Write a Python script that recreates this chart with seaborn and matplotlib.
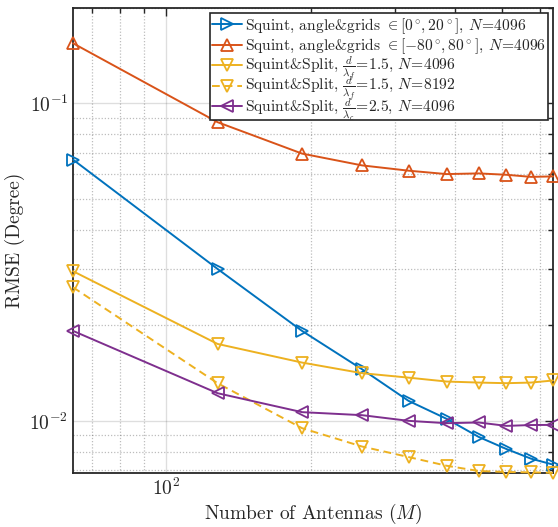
import types
import numpy as np
import pandas as pd
import matplotlib
matplotlib.use("Agg")
import matplotlib.pyplot as plt
import matplotlib.ticker as mticker
from matplotlib.transforms import Bbox
import seaborn as sns

antennas = [64, 128, 192, 256, 320, 384, 448, 512, 576, 640]
squint_0_20 = [0.0665, 0.0301, 0.0192, 0.01454, 0.01156, 0.01015, 0.0089, 0.00815, 0.0076, 0.00728]
squint_80_80 = [0.1547, 0.0873, 0.0695, 0.0638, 0.0614, 0.0599, 0.0602, 0.0596, 0.0587, 0.0589]
split_15_4096 = [0.0296, 0.01747, 0.01526, 0.01413, 0.01368, 0.0133, 0.0132, 0.01314, 0.0132, 0.0134]
split_15_8192 = [0.02633, 0.01314, 0.00948, 0.0083, 0.00769, 0.00722, 0.00695, 0.0069, 0.00688, 0.00686]
split_25_4096 = [0.0192, 0.01222, 0.01065, 0.01042, 0.0100, 0.00983, 0.00988, 0.00964, 0.0097, 0.00971]

labels = [
    r"Squint, angle&grids $\in[0^\circ\!,20^\circ]$, $N\!=\!4096$",
    r"Squint, angle&grids $\in[-80^\circ\!,80^\circ]$, $N\!=\!4096$",
    r"Squint&Split, $\frac{d}{\lambda_f}\!=\!1.5$, $N\!=\!4096$",
    r"Squint&Split, $\frac{d}{\lambda_f}\!=\!1.5$, $N\!=\!8192$",
    r"Squint&Split, $\frac{d}{\lambda_c}\!=\!2.5$, $N\!=\!4096$",
]

sns.set_theme(style="white")
plt.rcParams["font.family"] = ["cmr10", "DejaVu Serif"]
plt.rcParams["mathtext.fontset"] = "cm"
plt.rcParams["axes.unicode_minus"] = False
plt.rcParams["axes.formatter.use_mathtext"] = True

fig = plt.figure(figsize=(5.58, 5.27), dpi=100)
ax = fig.add_axes([0.131, 0.1025, 0.86, 0.8825])

series = [squint_0_20, squint_80_80, split_15_4096, split_15_8192, split_25_4096]
colors = ["#0072BD", "#D95319", "#EDB120", "#EDB120", "#7E2F8E"]
markers = [">", "^", "v", "v", "<"]
styles = ["-", "-", "-", (0, (4, 2.5)), "-"]

for vals, c, m, ls, lab in zip(series, colors, markers, styles, labels):
    sns.lineplot(x=antennas, y=vals, ax=ax, color=c, marker=m, linestyle=ls,
                 linewidth=1.4, markersize=8, markerfacecolor="none",
                 markeredgecolor=c, markeredgewidth=1.3, label=lab,
                 clip_on=False, zorder=3)

ax.set_xscale("log")
ax.set_yscale("log")
ax.set_xlim(64, 640)
ax.set_ylim(0.00685, 0.2)

ax.xaxis.set_major_locator(mticker.LogLocator(base=10))
ax.xaxis.set_minor_locator(mticker.LogLocator(base=10, subs=np.arange(2, 10)))
ax.xaxis.set_minor_formatter(mticker.NullFormatter())
ax.yaxis.set_major_locator(mticker.LogLocator(base=10))
ax.yaxis.set_minor_locator(mticker.LogLocator(base=10, subs=np.arange(2, 10)))
ax.yaxis.set_minor_formatter(mticker.NullFormatter())

ax.grid(which="major", color="#262626", alpha=0.15, linewidth=1.0, linestyle="-")
ax.grid(which="minor", color="#262626", alpha=0.3, linewidth=0.9, linestyle=(0, (1, 1.5)))
ax.set_axisbelow(True)

ax.tick_params(which="both", direction="in", top=True, right=True, color="#262626",
               labelsize=14, width=1.0, labelcolor="#262626")
ax.tick_params(which="major", length=6)
ax.tick_params(which="minor", length=3.5)
for s in ax.spines.values():
    s.set_color("#262626")
    s.set_linewidth(1.3)

ax.set_xlabel(r"Number of Antennas ($M$)", fontsize=14, color="#262626", labelpad=2)
ax.set_ylabel("RMSE (Degree)", fontsize=14, color="#262626", labelpad=3)

leg = ax.legend(loc="upper right", fontsize=11.2, frameon=True, fancybox=False,
                edgecolor="#262626", framealpha=1, borderaxespad=0.3,
                handlelength=1.9, handletextpad=0.2, labelspacing=0.0,
                borderpad=0.15)
leg.get_frame().set_linewidth(1.2)

# uniform row height for legend entries (fractions overlap like LaTeX)
ROW_H, ROW_D = 20.5, 5.5


def _fixed_bbox(self, renderer, _orig=None):
    bb = _orig(renderer)
    return Bbox.from_bounds(bb.x0, -ROW_D, bb.width, ROW_H)


for col in leg._legend_handle_box.get_children():
    for item in col.get_children():
        ta = item.get_children()[1]
        orig = ta.get_bbox
        ta.get_bbox = types.MethodType(
            lambda self, r, _o=orig: _fixed_bbox(self, r, _o), ta)

fig.savefig("out.png", dpi=100)
